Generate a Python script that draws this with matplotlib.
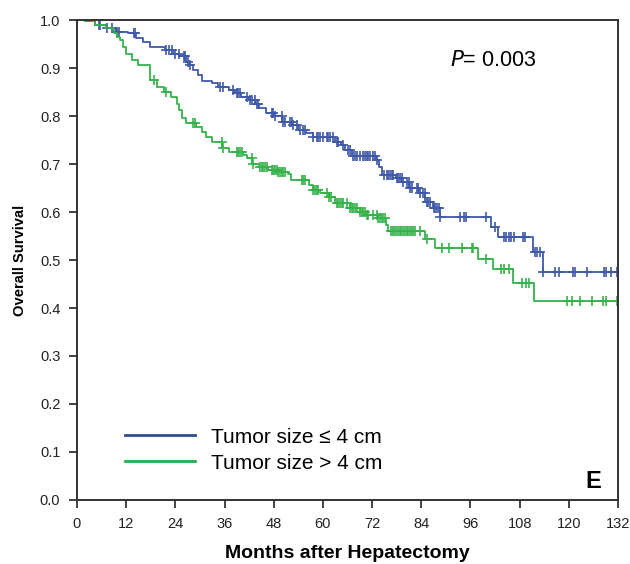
import numpy as np
import matplotlib
matplotlib.use("Agg")
import matplotlib.pyplot as plt
from matplotlib.lines import Line2D

plt.rcParams['font.family'] = ['Liberation Sans', 'DejaVu Sans']

# Tumor size <= 4 cm : step times (months) and survival after each step
small_t = [0, 2.0, 4.5, 7.0, 9.5, 12.5, 14.5, 16.0, 17.8, 21.5, 23.5, 25.0, 26.5,
           27.5, 28.4, 29.5, 30.5, 33.0, 34.5, 37.0, 38.5, 40.0, 42.0, 43.5, 44.5,
           46.0, 48.0, 50.0, 52.5, 54.0, 55.8, 57.5, 63.0, 64.5, 65.5, 67.0, 73.0,
           73.8, 74.3, 77.8, 79.3, 81.0, 83.5, 85.0, 86.8, 88.5, 101.0, 102.7,
           111.3, 113.6]
small_s = [1.0, 0.997, 0.990, 0.983, 0.976, 0.972, 0.962, 0.955, 0.944, 0.938, 0.930,
           0.924, 0.913, 0.906, 0.896, 0.885, 0.872, 0.868, 0.861, 0.854, 0.847, 0.840,
           0.833, 0.826, 0.816, 0.806, 0.799, 0.788, 0.781, 0.771, 0.764, 0.757, 0.746,
           0.740, 0.729, 0.717, 0.708, 0.694, 0.677, 0.670, 0.663, 0.649, 0.639, 0.621,
           0.608, 0.590, 0.569, 0.547, 0.517, 0.475]
small_cens = [5.3, 5.7, 7.3, 8.5, 9.8, 10.2, 13.8, 14.2, 21.6, 22.4, 23.2, 24.0, 24.8,
              26.0, 26.3, 27.2, 27.6, 34.9, 35.7, 38.1, 39.0, 39.4, 39.8, 41.4, 42.2,
              42.6, 43.4, 43.8, 44.2, 47.5, 47.9, 48.3, 49.9, 50.3, 50.8, 52.0, 52.4,
              52.8, 53.6, 54.4, 55.2, 55.6, 57.7, 58.5, 58.9, 59.3, 60.1, 60.9, 61.3,
              61.7, 62.5, 63.4, 63.8, 65.0, 66.2, 66.6, 67.4, 67.8, 68.2, 69.0, 69.9,
              70.3, 70.7, 71.1, 71.5, 72.3, 72.7, 73.1, 74.8, 75.6, 76.0, 76.4, 76.8,
              77.2, 78.0, 78.4, 78.8, 79.2, 79.6, 80.5, 80.9, 81.3, 81.7, 82.9, 83.3,
              83.7, 84.5, 84.9, 85.3, 85.7, 86.1, 87.0, 87.4, 87.8, 88.2, 88.6, 93.5,
              94.3, 94.9, 99.8, 102.0, 104.2, 104.6, 105.3, 105.9, 106.5, 108.8, 109.3,
              111.8, 112.3, 113.0, 113.8, 116.6, 117.7, 121.0, 121.5, 124.5, 128.6,
              129.1, 130.2, 131.8]

# Tumor size > 4 cm
large_t = [0, 2.0, 4.5, 7.0, 9.0, 9.8, 10.6, 11.3, 12.0, 13.5, 14.8, 17.8, 19.5, 21.3,
           23.0, 24.5, 25.0, 25.6, 26.5, 29.0, 30.5, 31.5, 33.0, 35.5, 37.0, 40.5, 41.5,
           42.8, 44.5, 46.5, 49.0, 51.5, 52.3, 56.5, 57.5, 59.2, 61.5, 63.0, 66.5, 69.0,
           70.5, 73.5, 75.4, 76.0, 84.9, 87.4, 97.8, 101.6, 106.3, 111.5]
large_s = [1.0, 0.997, 0.990, 0.983, 0.972, 0.965, 0.958, 0.944, 0.930, 0.917, 0.906,
           0.875, 0.861, 0.851, 0.840, 0.826, 0.812, 0.795, 0.785, 0.778, 0.767, 0.757,
           0.746, 0.733, 0.726, 0.719, 0.712, 0.701, 0.694, 0.6875, 0.684, 0.680, 0.667,
           0.656, 0.646, 0.639, 0.632, 0.618, 0.608, 0.601, 0.594, 0.587, 0.573, 0.561,
           0.543, 0.524, 0.503, 0.481, 0.453, 0.415]
large_cens = [18.7, 21.6, 28.4, 28.8, 35.3, 35.7, 39.0, 39.4, 39.8, 40.2, 42.6, 43.0,
              44.7, 45.1, 45.5, 45.9, 46.3, 47.5, 47.9, 48.3, 48.7, 49.1, 49.5, 49.9,
              50.3, 50.8, 54.8, 55.2, 55.6, 57.7, 58.1, 58.5, 58.9, 61.1, 61.5, 61.9,
              63.4, 63.8, 64.2, 64.6, 65.0, 65.8, 66.6, 67.0, 67.4, 67.8, 68.2, 69.1,
              69.5, 69.9, 70.3, 70.7, 71.1, 72.3, 73.1, 73.5, 73.9, 74.3, 74.7, 75.2,
              76.5, 77.0, 77.4, 77.8, 78.3, 78.7, 79.1, 79.5, 80.0, 80.4, 80.8, 81.3,
              81.7, 82.1, 82.5, 83.7, 85.3, 89.0, 90.8, 93.9, 96.3, 96.7, 99.8, 103.5,
              104.2, 105.3, 108.5, 109.5, 110.3, 119.5, 120.7, 122.6, 125.6, 128.3,
              129.1, 131.7]

x_max = 132
labels = ['Tumor size \u2264 4 cm', 'Tumor size > 4 cm']
blue = '#3f59a8'
green = '#35b34a'


def surv_at(times, surv, t):
    idx = np.searchsorted(times, t, side='right') - 1
    return np.array(surv)[idx]


fig = plt.figure(figsize=(6.3, 5.64), dpi=100)
ax = fig.add_axes([0.1222, 0.1135, 0.8588, 0.851])

for t, s, c, col in [(small_t, small_s, small_cens, blue),
                     (large_t, large_s, large_cens, green)]:
    tt = list(t) + [x_max]
    ss = list(s) + [s[-1]]
    ax.step(tt, ss, where='post', color=col, lw=1.3)
    ax.plot(c, surv_at(t, s, c), ls='none', marker='+', ms=7, mew=1.2, color=col)

ax.set_xlim(0, x_max)
ax.set_ylim(0, 1.0)
ax.set_xticks(np.arange(0, 133, 12))
ax.set_yticks(np.arange(0, 1.01, 0.1))
ax.set_yticklabels([f'{v:.1f}' for v in np.arange(0, 1.01, 0.1)])
ax.tick_params(direction='out', length=6, width=1.2, labelsize=10.5, colors='#222222',
               pad=6)
for sp in ax.spines.values():
    sp.set_linewidth(1.4)
    sp.set_color('#333333')

ax.set_xlabel('Months after Hepatectomy', fontsize=14, fontweight='bold', labelpad=10)
ax.set_ylabel('Overall Survival', fontsize=10.6, fontweight='bold', labelpad=9)

handles = [Line2D([], [], color='#2d4f8c', lw=2), Line2D([], [], color='#22b14c', lw=2)]
ax.legend(handles, labels, loc='lower left', bbox_to_anchor=(0.0887, 0.057),
          frameon=False, fontsize=15, handlelength=3.35, handletextpad=0.8,
          labelspacing=0.33, borderpad=0, borderaxespad=0)

ax.text(0.69, 0.905, '$\\it{P}$= 0.003', transform=ax.transAxes, fontsize=15.5)
ax.text(0.968, 0.015, 'E', transform=ax.transAxes, fontsize=17, fontweight='bold',
        ha='right', va='bottom')

fig.savefig('out.png', dpi=100)
